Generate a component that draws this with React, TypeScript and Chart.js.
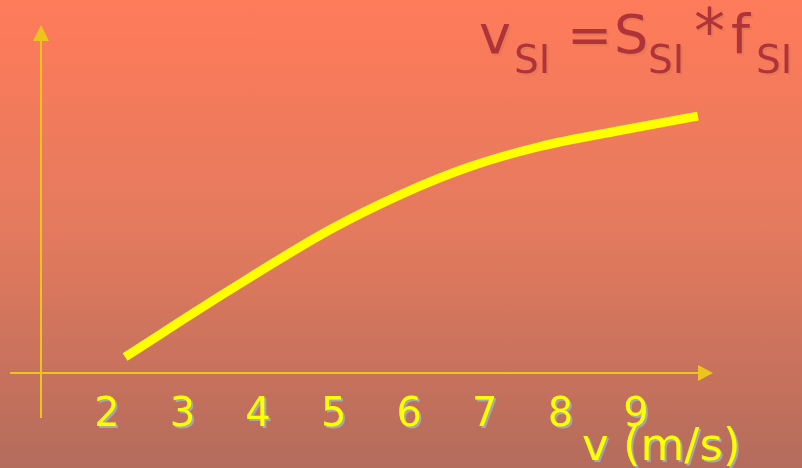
import { useEffect, useRef } from "react";
import { Chart, registerables } from "chart.js";

Chart.register(...registerables);

// ---- data ----
const speedX = [2.24, 3.63, 4.95, 5.88, 6.8, 7.73, 8.79, 9.82];
const curveY = [1.6, 8.32, 14.32, 17.82, 20.62, 22.65, 24.25, 25.69];
const xTickLabels = ["2", "3", "4", "5", "6", "7", "8", "9"];
const xAxisTitle = "v (m/s)";
const formulaText = ["v", "SI", "=", "S", "SI", "*", "f", "SI"];
const formulaIsSub = [false, true, false, false, true, false, false, true];

// ---- layout / style (not data) ----
const formulaX = [479, 514, 567, 614, 648, 694, 731, 756];
const AXIS_COLOR = "#EDC41C";
const FONT = "'DejaVu Sans', sans-serif";

const decorPlugin = {
  id: "decor",
  afterDraw(chart: any) {
    const ctx = chart.ctx as CanvasRenderingContext2D;
    const xs = chart.scales.x;
    const ys = chart.scales.y;
    const left = xs.getPixelForValue(xs.min);
    const right = xs.getPixelForValue(xs.max);
    const x0 = ys.getPixelForValue(0);
    const top = ys.getPixelForValue(ys.max);
    ctx.save();
    // axes
    ctx.fillStyle = AXIS_COLOR;
    ctx.fillRect(Math.round(left) - 1, top + 16, 2, x0 + 45 - (top + 16));
    ctx.beginPath();
    ctx.moveTo(left, top);
    ctx.lineTo(left - 8, top + 16);
    ctx.lineTo(left + 8, top + 16);
    ctx.closePath();
    ctx.fill();
    ctx.fillRect(left - 31, Math.round(x0) - 1, right - 15 - (left - 31), 2);
    ctx.beginPath();
    ctx.moveTo(right, x0);
    ctx.lineTo(right - 15, x0 - 8);
    ctx.lineTo(right - 15, x0 + 8);
    ctx.closePath();
    ctx.fill();

    // tick labels
    ctx.shadowColor = "#A9A9A9";
    ctx.shadowOffsetX = 2;
    ctx.shadowOffsetY = 2;
    ctx.shadowBlur = 0;
    ctx.fillStyle = "#FFFF00";
    ctx.font = `40px ${FONT}`;
    ctx.textAlign = "center";
    ctx.textBaseline = "alphabetic";
    xTickLabels.forEach((lab) => {
      ctx.fillText(lab, xs.getPixelForValue(Number(lab)), x0 + 53);
    });
    // axis title
    ctx.font = `45px ${FONT}`;
    ctx.textAlign = "left";
    ctx.fillText(xAxisTitle, right - 131, x0 + 87);

    // formula
    ctx.shadowColor = "rgba(230,120,85,0.95)";
    ctx.fillStyle = "#B0333A";
    formulaText.forEach((t, i) => {
      const sub = formulaIsSub[i];
      const size = t === "*" ? 62 : sub ? 39 : 54;
      ctx.font = `${size}px ${FONT}`;
      ctx.fillText(t, formulaX[i], sub ? 73 : 53);
    });
    ctx.restore();
  },
};

export default function App() {
  const ref = useRef<HTMLCanvasElement | null>(null);
  useEffect(() => {
    if (!ref.current) return;
    const chart = new Chart(ref.current, {
      type: "line",
      data: {
        datasets: [
          {
            data: speedX.map((x, i) => ({ x, y: curveY[i] })),
            borderColor: "#FFFF00",
            borderWidth: 9,
            borderCapStyle: "butt",
            pointRadius: 0,
            cubicInterpolationMode: "monotone",
            fill: false,
          },
        ],
      },
      options: {
        animation: false,
        responsive: false,
        layout: { padding: { left: 41, right: 89, top: 25, bottom: 95 } },
        plugins: { legend: { display: false }, tooltip: { enabled: false } },
        scales: {
          x: { type: "linear", display: false, min: 1.127, max: 10.02 },
          y: { type: "linear", display: false, min: 0, max: 34.8 },
        },
      },
      plugins: [decorPlugin],
    } as any);
    return () => chart.destroy();
  }, []);
  return (
    <div
      style={{
        position: "fixed",
        left: 0,
        top: 0,
        width: 802,
        height: 468,
        background: "linear-gradient(to bottom, #FF7B5A 0%, #E37A5E 50%, #B46C5C 100%)",
      }}
    >
      <canvas ref={ref} width={802} height={468} style={{ display: "block" }} />
    </div>
  );
}
